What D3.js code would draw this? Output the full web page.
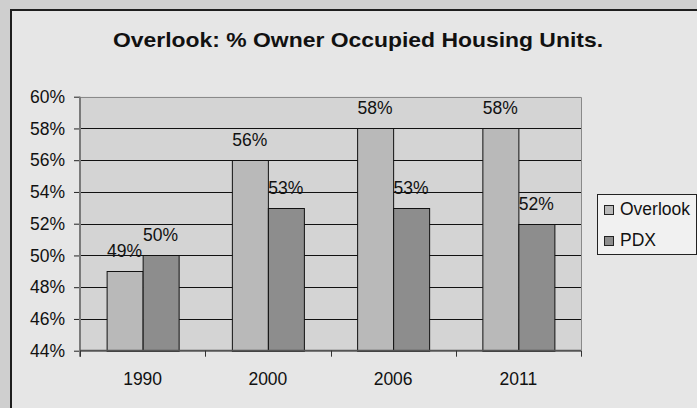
<!DOCTYPE html>
<html>
<head>
<meta charset="utf-8">
<script src="https://cdn.jsdelivr.net/npm/d3@7/dist/d3.min.js"></script>
<style>
  html, body { margin: 0; padding: 0; background: #cfcfcf; }
  svg { display: block; font-family: "Liberation Sans", Arial, sans-serif; }
</style>
</head>
<body>
<svg id="chart" width="697" height="408"></svg>
<script>
// Owner occupied housing share by year
const years = ["1990", "2000", "2006", "2011"];
const seriesNames = ["Overlook", "PDX"];
const overlook = [0.49, 0.56, 0.58, 0.58];
const pdx = [0.50, 0.53, 0.53, 0.52];
const yTicks = [0.44, 0.46, 0.48, 0.50, 0.52, 0.54, 0.56, 0.58, 0.60];
const chartTitle = "Overlook: % Owner Occupied Housing Units.";

const seriesValues = [overlook, pdx];
const fills = ["#b9b9b9", "#8d8d8d"];
const labelSize = 17.5;

const svg = d3.select("#chart");
const W = 697, H = 408;

// outer frame
svg.append("rect").attr("x", 0).attr("y", 0).attr("width", W).attr("height", H).attr("fill", "#cfcfcf");
svg.append("rect")
  .attr("x", 11).attr("y", 10).attr("width", W + 10).attr("height", H + 10)
  .attr("fill", "#e6e6e6").attr("stroke", "#1e1e1e").attr("stroke-width", 2);

const plot = { left: 80, right: 581, top: 96.7, bottom: 350.7 };

const x = d3.scaleBand().domain(years).range([plot.left, plot.right]).paddingInner(0).paddingOuter(0);
const y = d3.scaleLinear().domain([0.44, 0.60]).range([plot.bottom, plot.top]);
const barW = x.bandwidth() * 0.2875;
const xs = d3.scaleBand().domain(seriesNames).range([0, barW * 2]);

// plot background
svg.append("rect")
  .attr("x", plot.left).attr("y", plot.top)
  .attr("width", plot.right - plot.left).attr("height", plot.bottom - plot.top)
  .attr("fill", "#d4d4d4");

// gridlines
svg.append("g").selectAll("line")
  .data(yTicks.slice(1, -1))
  .join("line")
  .attr("x1", plot.left).attr("x2", plot.right)
  .attr("y1", d => Math.round(y(d)) + 0.5).attr("y2", d => Math.round(y(d)) + 0.5)
  .attr("stroke", "#111").attr("stroke-width", 1);

// top and right border of plot
svg.append("path")
  .attr("d", `M${plot.left},${Math.round(plot.top) + 0.5}H${plot.right + 0.5}V${plot.bottom}`)
  .attr("fill", "none").attr("stroke", "#8a8a8a").attr("stroke-width", 1);

// bars
const groups = svg.append("g").selectAll("g")
  .data(years)
  .join("g")
  .attr("transform", d => `translate(${x(d) + (x.bandwidth() - barW * 2) / 2},0)`);

groups.selectAll("rect")
  .data((d, i) => seriesNames.map((s, j) => ({ s, v: seriesValues[j][i], j })))
  .join("rect")
  .attr("x", d => xs(d.s) + 0.5)
  .attr("y", d => Math.round(y(d.v)) + 0.5)
  .attr("width", xs.bandwidth())
  .attr("height", d => Math.round(y(0.44)) - Math.round(y(d.v)))
  .attr("fill", d => fills[d.j])
  .attr("stroke", "#111").attr("stroke-width", 1);

// value labels
groups.selectAll("text")
  .data((d, i) => seriesNames.map((s, j) => ({ s, v: seriesValues[j][i], j })))
  .join("text")
  .attr("x", d => xs(d.s) + xs.bandwidth() / 2)
  .attr("y", d => y(d.v) - 14)
  .attr("text-anchor", "middle")
  .attr("font-size", labelSize)
  .attr("fill", "#111")
  .text(d => d3.format(".0%")(d.v));

// y axis
const yAxis = d3.axisLeft(y).tickValues(yTicks).tickFormat(d3.format(".0%")).tickSize(6).tickPadding(9);
const gy = svg.append("g").attr("transform", `translate(${plot.left},0)`).call(yAxis);
gy.select(".domain").remove();
gy.selectAll(".tick line").attr("stroke", "#222");
gy.selectAll(".tick text").attr("font-size", labelSize).attr("fill", "#111")
  .attr("font-family", "Liberation Sans, Arial, sans-serif");
svg.append("line")
  .attr("x1", plot.left).attr("x2", plot.left)
  .attr("y1", plot.top).attr("y2", plot.bottom + 6)
  .attr("stroke", "#7a7a7a").attr("stroke-width", 2);

// x axis
svg.append("line")
  .attr("x1", plot.left).attr("x2", plot.right)
  .attr("y1", plot.bottom).attr("y2", plot.bottom)
  .attr("stroke", "#555").attr("stroke-width", 2);
svg.append("g").selectAll("line")
  .data(years.map(d => x(d)).concat([plot.right]))
  .join("line")
  .attr("x1", d => Math.round(d) + 0.5).attr("x2", d => Math.round(d) + 0.5)
  .attr("y1", plot.bottom).attr("y2", plot.bottom + 6)
  .attr("stroke", "#333");
const xAxis = d3.axisBottom(x).tickSize(0).tickPadding(22);
const gx = svg.append("g").attr("transform", `translate(0,${plot.bottom})`).call(xAxis);
gx.select(".domain").remove();
gx.selectAll(".tick text").attr("font-size", labelSize).attr("fill", "#111")
  .attr("font-family", "Liberation Sans, Arial, sans-serif");

// title
svg.append("text")
  .attr("x", 358).attr("y", 46.7)
  .attr("text-anchor", "middle")
  .attr("font-size", 21).attr("font-weight", "bold").attr("fill", "#111")
  .attr("textLength", 490).attr("lengthAdjust", "spacingAndGlyphs")
  .text(chartTitle);

// legend
const lg = svg.append("g");
lg.append("rect")
  .attr("x", 597.5).attr("y", 194.5).attr("width", 99).attr("height", 60)
  .attr("fill", "#f1f1f1").attr("stroke", "#222").attr("stroke-width", 1);
const items = lg.selectAll("g.item")
  .data(seriesNames)
  .join("g").attr("class", "item")
  .attr("transform", (d, i) => `translate(604,${205 + i * 31})`);
items.append("rect")
  .attr("x", 0.5).attr("y", 0.5).attr("width", 9).attr("height", 9)
  .attr("fill", (d, i) => fills[i]).attr("stroke", "#222");
items.append("text")
  .attr("x", 16).attr("y", 10)
  .attr("font-size", labelSize).attr("fill", "#111")
  .text(d => d);
</script>
</body>
</html>
